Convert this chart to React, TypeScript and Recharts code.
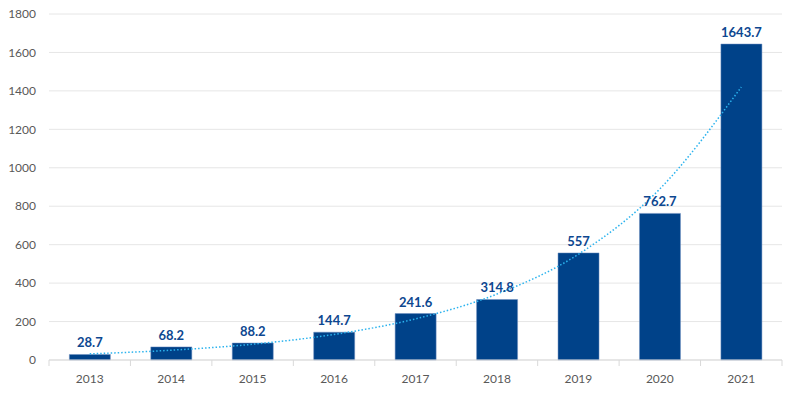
import { BarChart, Bar, Line, XAxis, YAxis, CartesianGrid, LabelList, ComposedChart } from "recharts";

// Annual totals with an exponential-style trend.
const YEARS = ["2013", "2014", "2015", "2016", "2017", "2018", "2019", "2020", "2021"];
const VALUES = [28.7, 68.2, 88.2, 144.7, 241.6, 314.8, 557, 762.7, 1643.7];
const TREND = [32, 51, 82, 133, 214, 343, 550, 890, 1420];
const Y_TICKS = [0, 200, 400, 600, 800, 1000, 1200, 1400, 1600, 1800];

const BAR_BLUE = "#004289";
const LABEL_BLUE = "#0d4790";
const TREND_BLUE = "#2bb3ee";
const AXIS_GREY = "#d9d9d9";
const TEXT_GREY = "#595959";
const FONT = "Lato, 'Noto Sans', sans-serif";

const data = YEARS.map((year, i) => ({ year, value: VALUES[i], trend: TREND[i] }));

// x-axis tick: year label plus a small mark on the category boundary (like Excel)
function YearTick(props: any) {
  const { x, y, payload, index, width } = props;
  const band = width / YEARS.length;
  const left = x - band / 2;
  return (
    <g>
      <line x1={left} y1={y - 8} x2={left} y2={y - 2} stroke={AXIS_GREY} />
      {index === YEARS.length - 1 && (
        <line x1={left + band} y1={y - 8} x2={left + band} y2={y - 2} stroke={AXIS_GREY} />
      )}
      <text x={x} y={y + 15} textAnchor="middle" fill={TEXT_GREY} fontSize={12} fontFamily={FONT}>
        {payload.value}
      </text>
    </g>
  );
}

export default function App() {
  return (
    <div style={{ position: "absolute", left: 0, top: 0, background: "#fff" }}>
      <ComposedChart
        width={795}
        height={395}
        data={data}
        margin={{ top: 14, right: 13, bottom: 0, left: 0 }}
        barCategoryGap="25%"
      >
        <CartesianGrid vertical={false} stroke="#e6e6e6" />
        <XAxis
          dataKey="year"
          height={35}
          stroke={AXIS_GREY}
          tickLine={false}
          tick={<YearTick />}
          interval={0}
        />
        <YAxis
          width={49}
          domain={[0, 1800]}
          ticks={Y_TICKS}
          axisLine={false}
          tickLine={false}
          tickMargin={7}
          tick={{ fill: TEXT_GREY, fontSize: 12, fontFamily: FONT }}
        />
        <Bar dataKey="value" fill={BAR_BLUE} stroke="#6f8fc0" strokeWidth={0.5} isAnimationActive={false}>
          <LabelList
            dataKey="value"
            position="top"
            offset={7}
            fill={LABEL_BLUE}
            fontSize={13}
            fontWeight="bold"
            fontFamily={FONT}
          />
        </Bar>
        <Line
          dataKey="trend"
          type="monotone"
          stroke={TREND_BLUE}
          strokeWidth={1.5}
          strokeDasharray="1.5 2"
          dot={false}
          activeDot={false}
          isAnimationActive={false}
        />
      </ComposedChart>
    </div>
  );
}
